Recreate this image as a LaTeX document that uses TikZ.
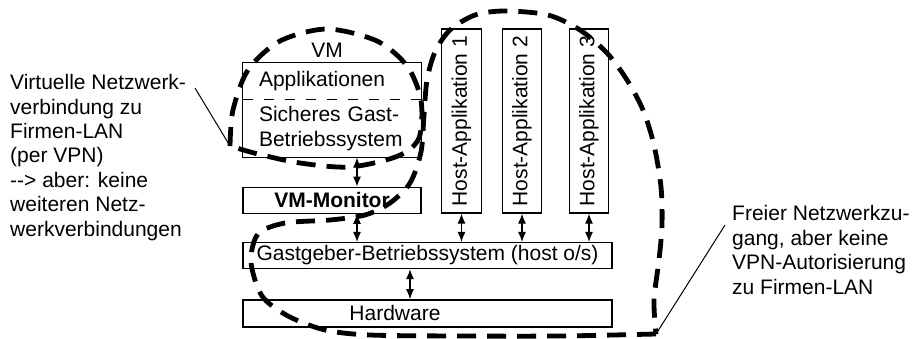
\documentclass[tikz,border=0pt]{standalone}
\usepackage{fontspec}
\setmainfont{Liberation Sans}
\usetikzlibrary{arrows.meta, positioning}
\newcommand\diagfont{\fontsize{21pt}{24.4pt}\selectfont}

\begin{document}
\begin{tikzpicture}[
  x=1pt, y=-1pt,
  font=\diagfont,
  layer/.style={rectangle, draw, line width=1.3pt, inner sep=0pt},
  vmpart/.style={rectangle, inner xsep=16pt, inner ysep=0pt,
                 text width=146pt, align=left},
  hostapp/.style={layer, rotate=90, minimum width=184pt, minimum height=39.5pt},
  link/.style={{Latex[length=10pt,width=8pt]}-{Latex[length=10pt,width=8pt]}, line width=1.1pt},
  note/.style={inner sep=0pt, align=left, anchor=west},
  leader/.style={line width=1pt},
  zone/.style={line width=4.8pt, dash pattern=on 19pt off 11pt},
]
  \useasboundingbox (0,0) rectangle (913,339);
  \node[vmpart, minimum height=36pt] (apps) at (332,81) {Applikationen};
  \node[vmpart, minimum height=58pt, below=0pt of apps] (gastos) {Sicheres Gast-\\Betriebssystem};
  \draw[line width=1.3pt] (apps.north west) rectangle (gastos.south east);
  \draw[line width=1pt, dash pattern=on 10pt off 11pt] (apps.south west) -- (apps.south east);
  \node[inner sep=0pt] (vmlabel) at (327,50) {VM};
  \node[layer, minimum width=178pt, minimum height=26pt, below=29pt of gastos,
        font=\diagfont\bfseries] (vmm) {VM-Monitor};
  \node[layer, minimum width=369pt, minimum height=26pt,
        below right=28pt and 0pt of vmm.south west] (hostos) {Gastgeber-Betriebssystem (host o/s)};
  \node[layer, minimum width=369pt, minimum height=27pt, below=30pt of hostos] (hw) {};
  \node (hwlabel) at ([xshift=-32.5pt]hw.center) {Hardware};
  \node[hostapp] (ha1) at (461.5,121) {Host-Applikation 1};
  \node[hostapp] (ha2) at (522,121) {Host-Applikation 2};
  \node[hostapp] (ha3) at (589,121) {Host-Applikation 3};

  \coordinate (vmaxis) at ([xshift=25pt]vmm.south);
  \coordinate (hwaxis) at ([xshift=-17.5pt]hostos.south);
  \draw[link] ([xshift=25pt]gastos.south) -- ([xshift=25pt]vmm.north);
  \draw[link] (vmaxis) -- (vmaxis |- hostos.north);
  \draw[link] (ha1.west) -- (ha1.west |- hostos.north);
  \draw[link] (ha2.west) -- (ha2.west |- hostos.north);
  \draw[link] (ha3.west) -- (ha3.west |- hostos.north);
  \draw[link] (hwaxis) -- (hwaxis |- hw.north);

  \node[note] (vpnnote) at (10,157.5) {Virtuelle Netzwerk-\\verbindung zu\\Firmen-LAN\\(per VPN)\\-{}-> aber: keine\\weiteren Netz-\\werkverbindungen};
  \node[note] (lannote) at (732,250) {Freier Netzwerkzu-\\gang, aber keine\\VPN-Autorisierung\\zu Firmen-LAN};

  \coordinate (vmtip) at (230,146);
  \coordinate (hosttip) at (656,334);
  \coordinate (vpnfoot) at (195,88);
  \coordinate (lanfoot) at (725,225);
  \draw[leader] (vpnfoot) -- (vmtip);
  \draw[leader] (lanfoot) -- (hosttip);

  \draw[zone] plot[smooth] coordinates {(vmtip) (233,110) (248,70) (280,41) (327,29)
    (377,41) (407,66) (421,100) (419,138) (398,156) (350,167) (300,163) (258,154) (vmtip)};
  \draw[zone] plot[smooth] coordinates {(hosttip) (560,336) (460,336) (370,335) (325,330)
    (288,316) (262,296) (251,262) (258,234) (285,223) (330,220) (365,215) (390,203)
    (410,183) (421,152) (424,115) (427,80) (435,52) (450,30) (475,15) (505,11) (548,15)
    (580,30) (607,53) (627,80) (643,110) (654,145) (661,187) (662,225) (659,260)
    (654,300) (hosttip)};
\end{tikzpicture}
\end{document}
